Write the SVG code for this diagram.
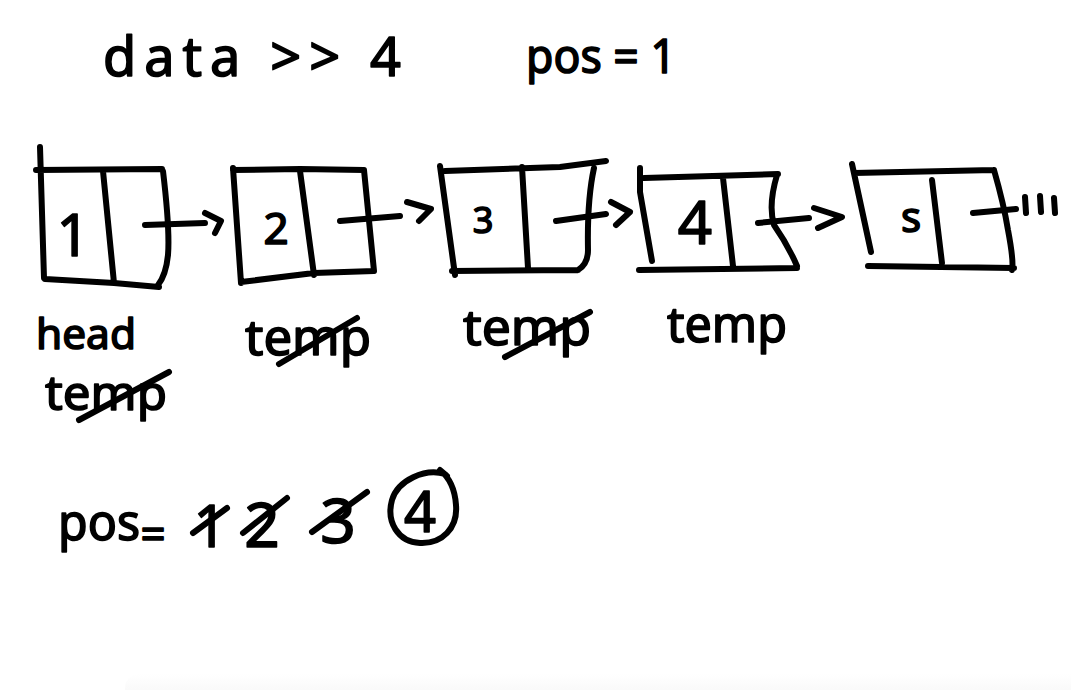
<svg xmlns="http://www.w3.org/2000/svg" width="1071" height="690" viewBox="0 0 1071 690">
<style>
.ink{fill:none;stroke:#000;stroke-width:6;stroke-linecap:round;stroke-linejoin:round}
.hw{font-family:"Noto Sans","DejaVu Sans",sans-serif;fill:#000;stroke:#000;stroke-width:1.6;stroke-linejoin:round}
</style>
<defs>
<linearGradient id="shade" x1="0" y1="0" x2="0" y2="1">
<stop offset="0" stop-color="#ffffff"/>
<stop offset="1" stop-color="#f5f5f5"/>
</linearGradient>
</defs>
<rect width="1071" height="690" fill="#fff"/>
<rect x="125" y="674" width="960" height="30" rx="14" fill="url(#shade)"/>

<g id="header">
<text class="hw" x="103" y="76" font-size="54" textLength="298" lengthAdjust="spacing">data &gt;&gt; 4</text>
<text class="hw" x="526" y="73" font-size="48" textLength="150" lengthAdjust="spacingAndGlyphs">pos = 1</text>
</g>

<g id="node1">
<path class="ink" d="M40,147 L44,278 M36,170 L162,169 M163,171 Q170,230 168,255 Q166,275 158,285 M45,279 L114,283 L159,287 M103,171 L114,283"/>
<text class="hw" x="73" y="256" font-size="58" text-anchor="middle">1</text>
</g>
<g id="node2">
<path class="ink" d="M233,168 L241,283 M233,170 L300,169 L364,170 M364,170 L374,271 M241,282 L314,273 L374,271 M300,171 L314,275"/>
<text class="hw" x="276" y="244" font-size="44" text-anchor="middle">2</text>
</g>
<g id="node3">
<path class="ink" d="M440,166 L455,275 M445,171 L530,168 L560,167 L606,161 M594,168 Q587,200 588,250 Q588,264 578,270 M452,271 L578,270 M522,167 L528,268"/>
<text class="hw" x="483" y="233" font-size="36" text-anchor="middle">3</text>
</g>
<g id="node4">
<path class="ink" d="M640,168 L640,192 L652,261 M644,178 L778,174 M777,175 Q768,205 774,225 Q788,245 797,266 M639,270 L797,268 M723,178 L733,266"/>
<text class="hw" x="695" y="244" font-size="60" text-anchor="middle">4</text>
</g>
<g id="node5">
<path class="ink" d="M852,164 L871,252 M854,173 L994,170 M994,170 Q1004,205 1008,230 Q1014,262 1012,270 M868,266 L1014,268 M932,180 L942,263"/>
<text class="hw" x="911" y="232" font-size="42" text-anchor="middle">s</text>
</g>

<g id="connectors">
<path class="ink" d="M145,225 L205,223 M205,213 L221,221 L215,233"/>
<path class="ink" d="M340,221 L400,216 M407,202 L431,209 L419,221"/>
<path class="ink" d="M556,221 L606,214 M611,202 L630,212 L616,225"/>
<path class="ink" d="M758,223 L809,218 M814,208 L842,217 L818,228"/>
<path class="ink" d="M973,213 L1016,209 M1025,197 L1026,213 M1040,196 L1041,212 M1054,198 L1055,213"/>
</g>

<g id="labels">
<text class="hw" x="36" y="349" font-size="42" textLength="100" lengthAdjust="spacingAndGlyphs">head</text>
<text class="hw" x="45" y="410" font-size="48" textLength="122" lengthAdjust="spacingAndGlyphs">temp</text>
<path class="ink" d="M79,420 L169,372"/>
<text class="hw" x="245" y="355" font-size="50" textLength="126" lengthAdjust="spacingAndGlyphs">temp</text>
<path class="ink" d="M279,364 L357,318"/>
<text class="hw" x="463" y="345" font-size="50" textLength="128" lengthAdjust="spacingAndGlyphs">temp</text>
<path class="ink" d="M505,357 L590,312"/>
<text class="hw" x="667" y="342" font-size="50" textLength="120" lengthAdjust="spacingAndGlyphs">temp</text>
</g>

<g id="counter">
<text class="hw" x="58" y="540" font-size="50" textLength="82" lengthAdjust="spacingAndGlyphs">pos</text>
<text class="hw" x="153" y="550" font-size="44" text-anchor="middle">=</text>
<text class="hw" x="210" y="547" font-size="58" text-anchor="middle">1</text>
<path class="ink" d="M193,533 L227,508"/>
<text class="hw" x="262" y="547" font-size="62" text-anchor="middle">2</text>
<path class="ink" d="M243,533 L287,498"/>
<text class="hw" x="338" y="543" font-size="62" text-anchor="middle">3</text>
<path class="ink" d="M312,532 L367,492"/>
<text class="hw" x="420" y="532" font-size="56" text-anchor="middle">4</text>
<path class="ink" d="M445,474 C425,468 398,480 392,500 C386,522 398,542 420,543 C442,544 458,528 456,505 C455,490 450,478 440,470 L447,476"/>
</g>
</svg>
